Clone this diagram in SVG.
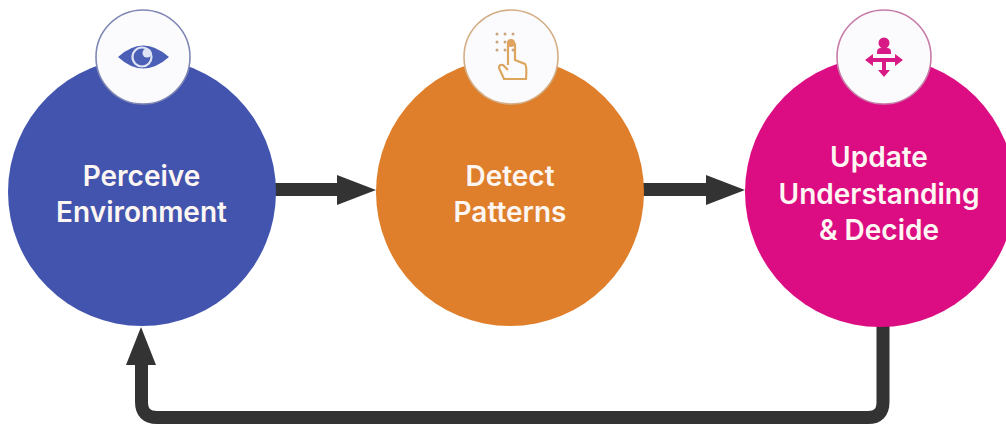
<svg xmlns="http://www.w3.org/2000/svg" width="1006" height="425" viewBox="0 0 1006 425">
<style>
.lbl{font-family:"Inter","Open Sans","Liberation Sans",sans-serif;font-weight:600;font-size:28px;fill:#fdf6f2;text-anchor:middle}
.badge{fill:#fbfbfd;stroke-width:1.6}
.conn{fill:none;stroke:#333;stroke-width:13}
.head{fill:#333}
</style>
<rect width="1006" height="425" fill="#fff"/>
<g id="connectors">
<path class="conn" d="M275 189.500H340"/><polygon class="head" points="337,175 376,190 337,205"/>
<path class="conn" d="M643 189.500H709"/><polygon class="head" points="706,175 745,190 706,205"/>
<path class="conn" d="M883 324V402Q883 417.500 868 417.500H157Q141.500 417.500 141.500 402V360"/><polygon class="head" points="141,327 156,365 126,365"/>
</g>
<g id="node-perceive">
<circle cx="142" cy="192" r="134" fill="#4254ae"/>
<circle class="badge" cx="143" cy="57" r="47" stroke="#7f87b4"/>
<path d="M118 57Q143 34 169 57Q143 80 118 57Z" fill="#4a5fb5"/>
<circle cx="142" cy="57" r="9.500" fill="#4a5fb5" stroke="#dfe4f4" stroke-width="2.200"/>
<circle cx="147" cy="53" r="4.500" fill="#dfe4f4"/>
<text class="lbl" x="141.500" y="186">Perceive</text>
<text class="lbl" x="141.500" y="222">Environment</text>
</g>
<g id="node-detect">
<circle cx="510" cy="192" r="134" fill="#df7f2b"/>
<circle class="badge" cx="511" cy="57" r="47" stroke="#d3ae84"/>
<g fill="#c9a67f"><circle cx="497" cy="34" r="1.500"/><circle cx="505" cy="34" r="1.500"/><circle cx="513" cy="34" r="1.500"/><circle cx="497" cy="42" r="1.500"/><circle cx="505" cy="42" r="1.500"/><circle cx="497" cy="50" r="1.500"/><circle cx="505" cy="50" r="1.500"/><circle cx="513" cy="50" r="1.500"/></g>
<circle cx="511" cy="43" r="4" fill="#e2a25f"/>
<path d="M508 65V44Q511 39 515 44V60L525 64Q527 66 526 79H504L499 68Q499 64 503 65L508 70" fill="none" stroke="#dca65f" stroke-width="2.200"/>
<text class="lbl" x="510" y="186">Detect</text>
<text class="lbl" x="510" y="222">Patterns</text>
</g>
<g id="node-update">
<circle cx="880" cy="192" r="135" fill="#dc0c82"/>
<circle class="badge" cx="884" cy="57" r="47" stroke="#c77ba8"/>
<g fill="#d71a86">
<circle cx="884" cy="43" r="5.500"/>
<path d="M877 52Q877 48 881 48H887Q891 48 891 52V54H877Z"/>
<path d="M865 60L873 54V58H895V54L903 60L895 66V62H886V70H890L884 77L878 70H882V62H873V66Z"/>
</g>
<text class="lbl" x="879" y="167">Update</text>
<text class="lbl" x="879" y="204">Understanding</text>
<text class="lbl" x="879" y="240">&amp; Decide</text>
</g>
</svg>
